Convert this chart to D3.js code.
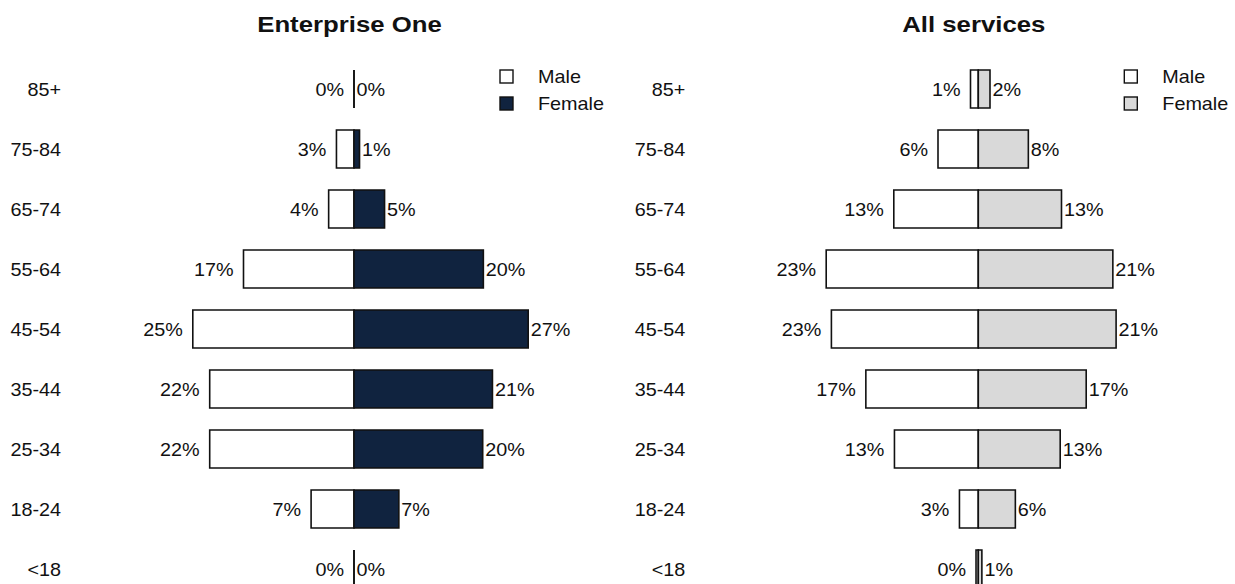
<!DOCTYPE html>
<html>
<head>
<meta charset="utf-8">
<script src="https://cdn.jsdelivr.net/npm/d3@7"></script>
<style>
  html, body { margin: 0; padding: 0; background: #fff; }
  svg { display: block; font-family: "Liberation Sans", Arial, sans-serif; }
</style>
</head>
<body>
<svg id="chart" width="1235" height="584"></svg>
<script>
// age groups, top to bottom
const ages = ["85+", "75-84", "65-74", "55-64", "45-54", "35-44", "25-34", "18-24", "<18"];

// Enterprise One (% of staff)
const maleOne   = [0, 2.7, 3.9, 17.0, 24.8, 22.2, 22.2, 6.6, 0];
const femaleOne = [0, 0.85, 4.7, 19.9, 26.8, 21.3, 19.8, 6.9, 0];

// All services (% of staff)
const maleAll   = [1.2, 6.2, 13.0, 23.4, 22.6, 17.3, 12.9, 2.9, 0.35];
const femaleAll = [1.8, 7.7, 12.8, 20.7, 21.2, 16.6, 12.6, 5.7, 0.55];

const titles = ["Enterprise One", "All services"];
const legendLabels = ["Male", "Female"];

const svg = d3.select("#chart");
const stretch = 1.1;   // text in the original is drawn slightly wide

const y = d3.scaleBand().domain(ages).range([48, 610]).padding(22 / 60);
const x = d3.scaleLinear().domain([-30, 30]).range([159, 549]);

function txt(g, xx, yy, s, size, anchor, weight) {
  return g.append("text")
    .attr("transform", `translate(${xx},${yy}) scale(${stretch},1)`)
    .attr("text-anchor", anchor)
    .attr("font-size", size)
    .attr("font-weight", weight || "normal")
    .attr("fill", "#111")
    .text(s);
}

function bar(x0, x1, y0, h) {
  return `M${x0},${y0}H${x1}V${y0 + h}H${x0}Z`;
}

function panel(offset, title, male, female, femaleColor) {
  const g = svg.append("g").attr("transform", `translate(${offset},0)`);
  const rows = ages.map((a, i) => ({ age: a, m: male[i], f: female[i] }));

  txt(g, x(0) - 4.5, 32, title, 23, "middle", "bold").attr("transform", `translate(${x(0) - 4.5},32) scale(1.12,1)`);

  rows.forEach(d => txt(g, 61, y(d.age) + y.bandwidth() / 2 + 6.5, d.age, 18, "end"));

  g.selectAll("path.male").data(rows).join("path")
    .attr("class", "male")
    .attr("d", d => bar(x(-d.m), x(0), y(d.age), y.bandwidth()))
    .attr("fill", "#fff").attr("stroke", "#111").attr("stroke-width", 1.6);

  g.selectAll("path.female").data(rows).join("path")
    .attr("class", "female")
    .attr("d", d => bar(x(0), x(d.f), y(d.age), y.bandwidth()))
    .attr("fill", femaleColor).attr("stroke", "#111").attr("stroke-width", 1.6);

  rows.forEach(d => {
    const cy = y(d.age) + y.bandwidth() / 2 + 6.5;
    txt(g, x(-d.m) - 10, cy, Math.round(d.m) + "%", 18, "end");
    txt(g, x(d.f) + 2.5, cy, Math.round(d.f) + "%", 18, "start");
  });

  // legend
  const fills = ["#fff", femaleColor];
  legendLabels.forEach((l, i) => {
    g.append("rect")
      .attr("x", 500).attr("y", 70 + i * 27)
      .attr("width", 13).attr("height", 13)
      .attr("fill", fills[i]).attr("stroke", "#111").attr("stroke-width", 1.4);
    txt(g, 538, 83 + i * 26.5, l, 18, "start");
  });
}

panel(0, titles[0], maleOne, femaleOne, "#10233f");
panel(624.3, titles[1], maleAll, femaleAll, "#d9d9d9");
</script>
</body>
</html>
